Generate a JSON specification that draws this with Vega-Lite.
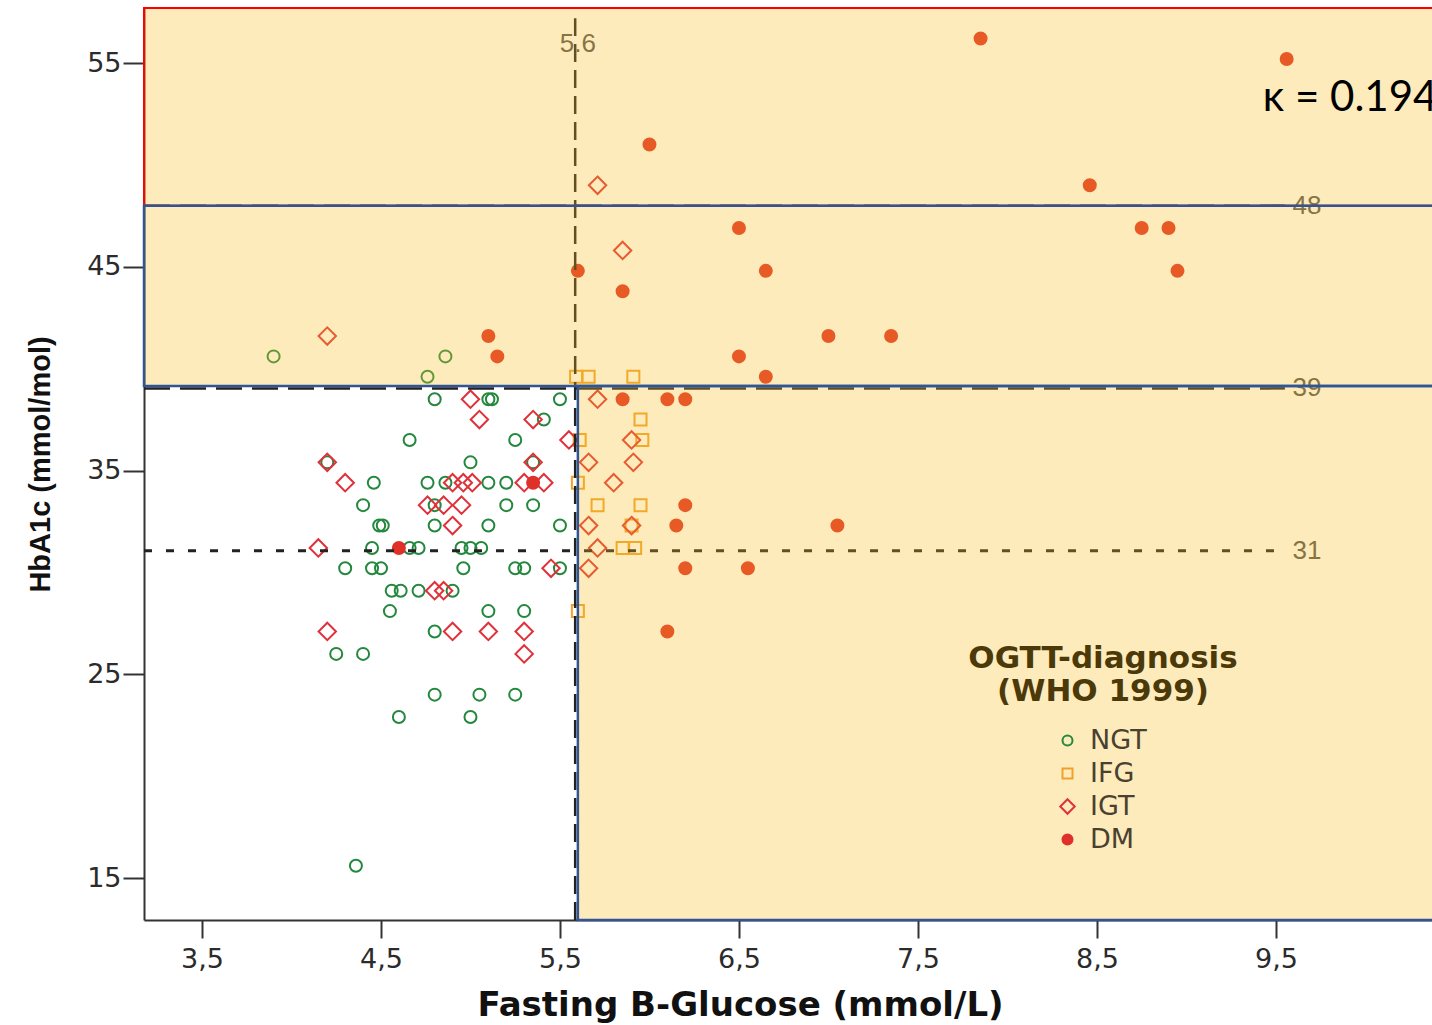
{
  "$schema": "https://vega.github.io/schema/vega-lite/v6.json",
  "width": 1288,
  "height": 912,
  "autosize": {"type": "none"},
  "padding": {"left": 144, "top": 8, "right": 0, "bottom": 105},
  "background": "white",
  "config": {"view": {"stroke": null}},
  "datasets": {
    "pts": [
      {"fbg": 3.90, "hba1c": 40.6, "dx": "NGT"}, {"fbg": 4.86, "hba1c": 40.6, "dx": "NGT"}, {"fbg": 4.76, "hba1c": 39.6, "dx": "NGT"},
      {"fbg": 4.80, "hba1c": 38.5, "dx": "NGT"}, {"fbg": 5.10, "hba1c": 38.5, "dx": "NGT"}, {"fbg": 5.12, "hba1c": 38.5, "dx": "NGT"}, {"fbg": 5.50, "hba1c": 38.5, "dx": "NGT"},
      {"fbg": 5.41, "hba1c": 37.5, "dx": "NGT"},
      {"fbg": 4.66, "hba1c": 36.5, "dx": "NGT"}, {"fbg": 5.25, "hba1c": 36.5, "dx": "NGT"},
      {"fbg": 5.00, "hba1c": 35.4, "dx": "NGT"}, {"fbg": 5.35, "hba1c": 35.4, "dx": "NGT"}, {"fbg": 4.20, "hba1c": 35.4, "dx": "NGT"},
      {"fbg": 4.46, "hba1c": 34.4, "dx": "NGT"}, {"fbg": 4.76, "hba1c": 34.4, "dx": "NGT"}, {"fbg": 4.86, "hba1c": 34.4, "dx": "NGT"}, {"fbg": 5.10, "hba1c": 34.4, "dx": "NGT"}, {"fbg": 5.20, "hba1c": 34.4, "dx": "NGT"},
      {"fbg": 4.40, "hba1c": 33.3, "dx": "NGT"}, {"fbg": 4.80, "hba1c": 33.3, "dx": "NGT"}, {"fbg": 5.20, "hba1c": 33.3, "dx": "NGT"}, {"fbg": 5.35, "hba1c": 33.3, "dx": "NGT"},
      {"fbg": 4.49, "hba1c": 32.3, "dx": "NGT"}, {"fbg": 4.51, "hba1c": 32.3, "dx": "NGT"}, {"fbg": 4.80, "hba1c": 32.3, "dx": "NGT"}, {"fbg": 5.10, "hba1c": 32.3, "dx": "NGT"}, {"fbg": 5.50, "hba1c": 32.3, "dx": "NGT"},
      {"fbg": 4.45, "hba1c": 31.2, "dx": "NGT"}, {"fbg": 4.66, "hba1c": 31.2, "dx": "NGT"}, {"fbg": 4.71, "hba1c": 31.2, "dx": "NGT"}, {"fbg": 4.95, "hba1c": 31.2, "dx": "NGT"}, {"fbg": 5.00, "hba1c": 31.2, "dx": "NGT"}, {"fbg": 5.06, "hba1c": 31.2, "dx": "NGT"},
      {"fbg": 4.30, "hba1c": 30.2, "dx": "NGT"}, {"fbg": 4.45, "hba1c": 30.2, "dx": "NGT"}, {"fbg": 4.50, "hba1c": 30.2, "dx": "NGT"}, {"fbg": 4.96, "hba1c": 30.2, "dx": "NGT"}, {"fbg": 5.25, "hba1c": 30.2, "dx": "NGT"}, {"fbg": 5.30, "hba1c": 30.2, "dx": "NGT"}, {"fbg": 5.50, "hba1c": 30.2, "dx": "NGT"},
      {"fbg": 4.56, "hba1c": 29.1, "dx": "NGT"}, {"fbg": 4.61, "hba1c": 29.1, "dx": "NGT"}, {"fbg": 4.71, "hba1c": 29.1, "dx": "NGT"}, {"fbg": 4.90, "hba1c": 29.1, "dx": "NGT"},
      {"fbg": 4.55, "hba1c": 28.1, "dx": "NGT"}, {"fbg": 5.10, "hba1c": 28.1, "dx": "NGT"}, {"fbg": 5.30, "hba1c": 28.1, "dx": "NGT"},
      {"fbg": 4.80, "hba1c": 27.1, "dx": "NGT"},
      {"fbg": 4.25, "hba1c": 26.0, "dx": "NGT"}, {"fbg": 4.40, "hba1c": 26.0, "dx": "NGT"},
      {"fbg": 4.80, "hba1c": 24.0, "dx": "NGT"}, {"fbg": 5.05, "hba1c": 24.0, "dx": "NGT"}, {"fbg": 5.25, "hba1c": 24.0, "dx": "NGT"},
      {"fbg": 4.60, "hba1c": 22.9, "dx": "NGT"}, {"fbg": 5.00, "hba1c": 22.9, "dx": "NGT"},
      {"fbg": 4.36, "hba1c": 15.6, "dx": "NGT"},
      {"fbg": 5.59, "hba1c": 39.6, "dx": "IFG"}, {"fbg": 5.66, "hba1c": 39.6, "dx": "IFG"}, {"fbg": 5.91, "hba1c": 39.6, "dx": "IFG"},
      {"fbg": 5.95, "hba1c": 37.5, "dx": "IFG"},
      {"fbg": 5.61, "hba1c": 36.5, "dx": "IFG"}, {"fbg": 5.96, "hba1c": 36.5, "dx": "IFG"},
      {"fbg": 5.60, "hba1c": 34.4, "dx": "IFG"},
      {"fbg": 5.71, "hba1c": 33.3, "dx": "IFG"}, {"fbg": 5.95, "hba1c": 33.3, "dx": "IFG"},
      {"fbg": 5.90, "hba1c": 32.3, "dx": "IFG"},
      {"fbg": 5.85, "hba1c": 31.2, "dx": "IFG"}, {"fbg": 5.92, "hba1c": 31.2, "dx": "IFG"},
      {"fbg": 5.60, "hba1c": 28.1, "dx": "IFG"},
      {"fbg": 4.20, "hba1c": 41.6, "dx": "IGT"}, {"fbg": 5.71, "hba1c": 49.0, "dx": "IGT"}, {"fbg": 5.85, "hba1c": 45.8, "dx": "IGT"},
      {"fbg": 5.00, "hba1c": 38.5, "dx": "IGT"}, {"fbg": 5.71, "hba1c": 38.5, "dx": "IGT"},
      {"fbg": 5.05, "hba1c": 37.5, "dx": "IGT"}, {"fbg": 5.35, "hba1c": 37.5, "dx": "IGT"},
      {"fbg": 5.55, "hba1c": 36.5, "dx": "IGT"}, {"fbg": 5.90, "hba1c": 36.5, "dx": "IGT"},
      {"fbg": 4.20, "hba1c": 35.4, "dx": "IGT"}, {"fbg": 5.35, "hba1c": 35.4, "dx": "IGT"}, {"fbg": 5.66, "hba1c": 35.4, "dx": "IGT"}, {"fbg": 5.91, "hba1c": 35.4, "dx": "IGT"},
      {"fbg": 4.30, "hba1c": 34.4, "dx": "IGT"}, {"fbg": 4.90, "hba1c": 34.4, "dx": "IGT"}, {"fbg": 4.96, "hba1c": 34.4, "dx": "IGT"}, {"fbg": 5.01, "hba1c": 34.4, "dx": "IGT"}, {"fbg": 5.30, "hba1c": 34.4, "dx": "IGT"}, {"fbg": 5.41, "hba1c": 34.4, "dx": "IGT"}, {"fbg": 5.80, "hba1c": 34.4, "dx": "IGT"},
      {"fbg": 4.76, "hba1c": 33.3, "dx": "IGT"}, {"fbg": 4.85, "hba1c": 33.3, "dx": "IGT"}, {"fbg": 4.95, "hba1c": 33.3, "dx": "IGT"},
      {"fbg": 4.90, "hba1c": 32.3, "dx": "IGT"}, {"fbg": 5.66, "hba1c": 32.3, "dx": "IGT"}, {"fbg": 5.90, "hba1c": 32.3, "dx": "IGT"},
      {"fbg": 4.15, "hba1c": 31.2, "dx": "IGT"}, {"fbg": 5.71, "hba1c": 31.2, "dx": "IGT"},
      {"fbg": 5.45, "hba1c": 30.2, "dx": "IGT"}, {"fbg": 5.66, "hba1c": 30.2, "dx": "IGT"},
      {"fbg": 4.80, "hba1c": 29.1, "dx": "IGT"}, {"fbg": 4.85, "hba1c": 29.1, "dx": "IGT"},
      {"fbg": 4.20, "hba1c": 27.1, "dx": "IGT"}, {"fbg": 4.90, "hba1c": 27.1, "dx": "IGT"}, {"fbg": 5.10, "hba1c": 27.1, "dx": "IGT"}, {"fbg": 5.30, "hba1c": 27.1, "dx": "IGT"},
      {"fbg": 5.30, "hba1c": 26.0, "dx": "IGT"},
      {"fbg": 7.85, "hba1c": 56.2, "dx": "DM"}, {"fbg": 9.56, "hba1c": 55.2, "dx": "DM"}, {"fbg": 6.00, "hba1c": 51.0, "dx": "DM"}, {"fbg": 8.46, "hba1c": 49.0, "dx": "DM"},
      {"fbg": 6.50, "hba1c": 46.9, "dx": "DM"}, {"fbg": 8.75, "hba1c": 46.9, "dx": "DM"}, {"fbg": 8.90, "hba1c": 46.9, "dx": "DM"},
      {"fbg": 5.60, "hba1c": 44.8, "dx": "DM"}, {"fbg": 6.65, "hba1c": 44.8, "dx": "DM"}, {"fbg": 8.95, "hba1c": 44.8, "dx": "DM"},
      {"fbg": 5.85, "hba1c": 43.8, "dx": "DM"},
      {"fbg": 5.10, "hba1c": 41.6, "dx": "DM"}, {"fbg": 7.00, "hba1c": 41.6, "dx": "DM"}, {"fbg": 7.35, "hba1c": 41.6, "dx": "DM"},
      {"fbg": 5.15, "hba1c": 40.6, "dx": "DM"}, {"fbg": 6.50, "hba1c": 40.6, "dx": "DM"},
      {"fbg": 6.65, "hba1c": 39.6, "dx": "DM"},
      {"fbg": 5.85, "hba1c": 38.5, "dx": "DM"}, {"fbg": 6.10, "hba1c": 38.5, "dx": "DM"}, {"fbg": 6.20, "hba1c": 38.5, "dx": "DM"},
      {"fbg": 5.35, "hba1c": 34.4, "dx": "DM"},
      {"fbg": 6.20, "hba1c": 33.3, "dx": "DM"},
      {"fbg": 6.15, "hba1c": 32.3, "dx": "DM"}, {"fbg": 7.05, "hba1c": 32.3, "dx": "DM"},
      {"fbg": 4.60, "hba1c": 31.2, "dx": "DM"},
      {"fbg": 6.20, "hba1c": 30.2, "dx": "DM"}, {"fbg": 6.55, "hba1c": 30.2, "dx": "DM"},
      {"fbg": 6.10, "hba1c": 27.1, "dx": "DM"}
    ],
    "zones": [
      {"fbg": 3.176, "fbg2": 10.6, "hba1c": 48, "hba1c2": 57.7, "frame": "upper"},
      {"fbg": 3.176, "fbg2": 10.6, "hba1c": 39.15, "hba1c2": 48, "frame": "middle"},
      {"fbg": 5.6, "fbg2": 10.6, "hba1c": 12.939, "hba1c2": 39.15, "frame": "lower"}
    ]
  },
  "layer": [
    {
      "data": {"name": "pts"},
      "mark": {"type": "point", "size": 144, "strokeWidth": 2, "opacity": 1},
      "encoding": {
        "x": {
          "field": "fbg", "type": "quantitative",
          "scale": {"domain": [3.176, 10.372], "nice": false, "zero": false},
          "axis": {
            "values": [3.5, 4.5, 5.5, 6.5, 7.5, 8.5, 9.5],
            "labelExpr": "replace(format(datum.value, '.1f'), '.', ',')",
            "title": "Fasting B-Glucose (mmol/L)",
            "titleFont": "DejaVu Sans", "titleFontSize": 34, "titleFontWeight": "bold", "titleColor": "#111111",
            "titleX": 596, "titleAlign": "center", "titlePadding": 16,
            "labelFont": "DejaVu Sans", "labelFontSize": 27, "labelColor": "#2b2b2b", "labelPadding": 8,
            "labelFlush": false, "labelOverlap": false,
            "tickSize": 18, "tickWidth": 2, "tickColor": "#333333",
            "domainColor": "#333333", "domainWidth": 2, "grid": false, "zindex": 0
          }
        },
        "y": {
          "field": "hba1c", "type": "quantitative",
          "scale": {"domain": [12.939, 57.7], "nice": false, "zero": false},
          "axis": {
            "values": [15, 25, 35, 45, 55],
            "title": "HbA1c (mmol/mol)",
            "titleFont": "Liberation Sans", "titleFontSize": 29, "titleFontWeight": "bold", "titleColor": "#111111",
            "titlePadding": 31,
            "labelFont": "DejaVu Sans", "labelFontSize": 27, "labelColor": "#2b2b2b", "labelPadding": 2,
            "labelFlush": false, "labelOverlap": false,
            "tickSize": 21, "tickWidth": 2, "tickColor": "#333333",
            "domainColor": "#333333", "domainWidth": 2, "grid": false, "zindex": 0
          }
        },
        "shape": {
          "field": "dx", "type": "nominal",
          "scale": {"domain": ["NGT", "IFG", "IGT", "DM"], "range": ["circle", "square", "M0,-1.45L1.45,0L0,1.45L-1.45,0Z", "circle"]},
          "legend": {
            "orient": "none", "legendX": 824, "legendY": 636,
            "title": ["OGTT-diagnosis", "(WHO 1999)"],
            "titleFont": "DejaVu Sans", "titleFontSize": 31, "titleFontWeight": "bold", "titleColor": "#4b3909",
            "titleAlign": "center", "titleAnchor": "middle", "titleLineHeight": 33, "titlePadding": 19, "titleLimit": 600,
            "labelFont": "DejaVu Sans", "labelFontSize": 27, "labelColor": "#4a4030", "labelLimit": 300,
            "symbolSize": 100, "symbolStrokeWidth": 2, "symbolOffset": -6, "labelOffset": 9,
            "rowPadding": 5, "padding": 0
          }
        },
        "stroke": {
          "field": "dx", "type": "nominal",
          "scale": {"domain": ["NGT", "IFG", "IGT", "DM"], "range": ["#23883e", "#f0a12c", "#e0313a", "#e0302a"]}
        },
        "fill": {
          "field": "dx", "type": "nominal",
          "scale": {"domain": ["NGT", "IFG", "IGT", "DM"], "range": ["transparent", "transparent", "transparent", "#e0302a"]}
        }
      }
    },
    {
      "data": {"values": [{"fbg": 3.176, "fbg2": 9.55, "hba1c": 48}, {"fbg": 3.176, "fbg2": 9.55, "hba1c": 39.03}]},
      "mark": {"type": "rule", "color": "#222222", "strokeWidth": 2.5, "strokeDash": [26, 10]},
      "encoding": {
        "x": {"field": "fbg", "type": "quantitative", "scale": {"domain": [3.176, 10.372], "nice": false, "zero": false}},
        "x2": {"field": "fbg2"},
        "y": {"field": "hba1c", "type": "quantitative", "scale": {"domain": [12.939, 57.7], "nice": false, "zero": false}}
      }
    },
    {
      "data": {"values": [{"fbg": 3.176, "fbg2": 9.52, "hba1c": 31.06}]},
      "mark": {"type": "rule", "color": "#222222", "strokeWidth": 3, "strokeDash": [8, 14]},
      "encoding": {
        "x": {"field": "fbg", "type": "quantitative", "scale": {"domain": [3.176, 10.372], "nice": false, "zero": false}},
        "x2": {"field": "fbg2"},
        "y": {"field": "hba1c", "type": "quantitative", "scale": {"domain": [12.939, 57.7], "nice": false, "zero": false}}
      }
    },
    {
      "data": {"values": [{"fbg": 5.585, "hba1c": 12.939, "hba1c2": 57.2}]},
      "mark": {"type": "rule", "color": "#222222", "strokeWidth": 2.5, "strokeDash": [18, 8]},
      "encoding": {
        "x": {"field": "fbg", "type": "quantitative", "scale": {"domain": [3.176, 10.372], "nice": false, "zero": false}},
        "y": {"field": "hba1c", "type": "quantitative", "scale": {"domain": [12.939, 57.7], "nice": false, "zero": false}},
        "y2": {"field": "hba1c2"}
      }
    },
    {
      "data": {"values": [
        {"fbg": 9.673, "hba1c": 48, "t": "48"},
        {"fbg": 9.673, "hba1c": 39.03, "t": "39"},
        {"fbg": 9.673, "hba1c": 31.06, "t": "31"},
        {"fbg": 5.6, "hba1c": 55.93, "t": "5.6"}
      ]},
      "mark": {"type": "text", "font": "Liberation Sans", "fontSize": 26, "color": "#555555", "align": "center", "baseline": "middle"},
      "encoding": {
        "x": {"field": "fbg", "type": "quantitative", "scale": {"domain": [3.176, 10.372], "nice": false, "zero": false}},
        "y": {"field": "hba1c", "type": "quantitative", "scale": {"domain": [12.939, 57.7], "nice": false, "zero": false}},
        "text": {"field": "t"}
      }
    },
    {
      "data": {"name": "zones"},
      "mark": {"type": "rect", "fill": "#fabe1e", "fillOpacity": 0.3, "strokeWidth": 0},
      "encoding": {
        "x": {"field": "fbg", "type": "quantitative", "scale": {"domain": [3.176, 10.372], "nice": false, "zero": false}},
        "x2": {"field": "fbg2"},
        "y": {"field": "hba1c", "type": "quantitative", "scale": {"domain": [12.939, 57.7], "nice": false, "zero": false}},
        "y2": {"field": "hba1c2"}
      }
    },
    {
      "data": {"name": "zones"},
      "transform": [{"filter": "datum.frame == 'upper'"}],
      "mark": {"type": "rect", "fill": "transparent", "stroke": "#ff0000", "strokeWidth": 2},
      "encoding": {
        "x": {"field": "fbg", "type": "quantitative", "scale": {"domain": [3.176, 10.372], "nice": false, "zero": false}},
        "x2": {"field": "fbg2"},
        "y": {"field": "hba1c", "type": "quantitative", "scale": {"domain": [12.939, 57.7], "nice": false, "zero": false}},
        "y2": {"field": "hba1c2"}
      }
    },
    {
      "data": {"name": "zones"},
      "transform": [{"filter": "datum.frame != 'upper'"}],
      "mark": {"type": "rect", "fill": "transparent", "stroke": "#2f5597", "strokeWidth": 2.5},
      "encoding": {
        "x": {"field": "fbg", "type": "quantitative", "scale": {"domain": [3.176, 10.372], "nice": false, "zero": false}},
        "x2": {"field": "fbg2"},
        "y": {"field": "hba1c", "type": "quantitative", "scale": {"domain": [12.939, 57.7], "nice": false, "zero": false}},
        "y2": {"field": "hba1c2"}
      }
    },
    {
      "data": {"values": [{"fbg": 9.427, "hba1c": 52.64, "t": "κ = 0.194"}]},
      "mark": {"type": "text", "font": "Lato", "fontSize": 42, "color": "#000000", "align": "left", "baseline": "alphabetic"},
      "encoding": {
        "x": {"field": "fbg", "type": "quantitative", "scale": {"domain": [3.176, 10.372], "nice": false, "zero": false}},
        "y": {"field": "hba1c", "type": "quantitative", "scale": {"domain": [12.939, 57.7], "nice": false, "zero": false}},
        "text": {"field": "t"}
      }
    }
  ]
}
